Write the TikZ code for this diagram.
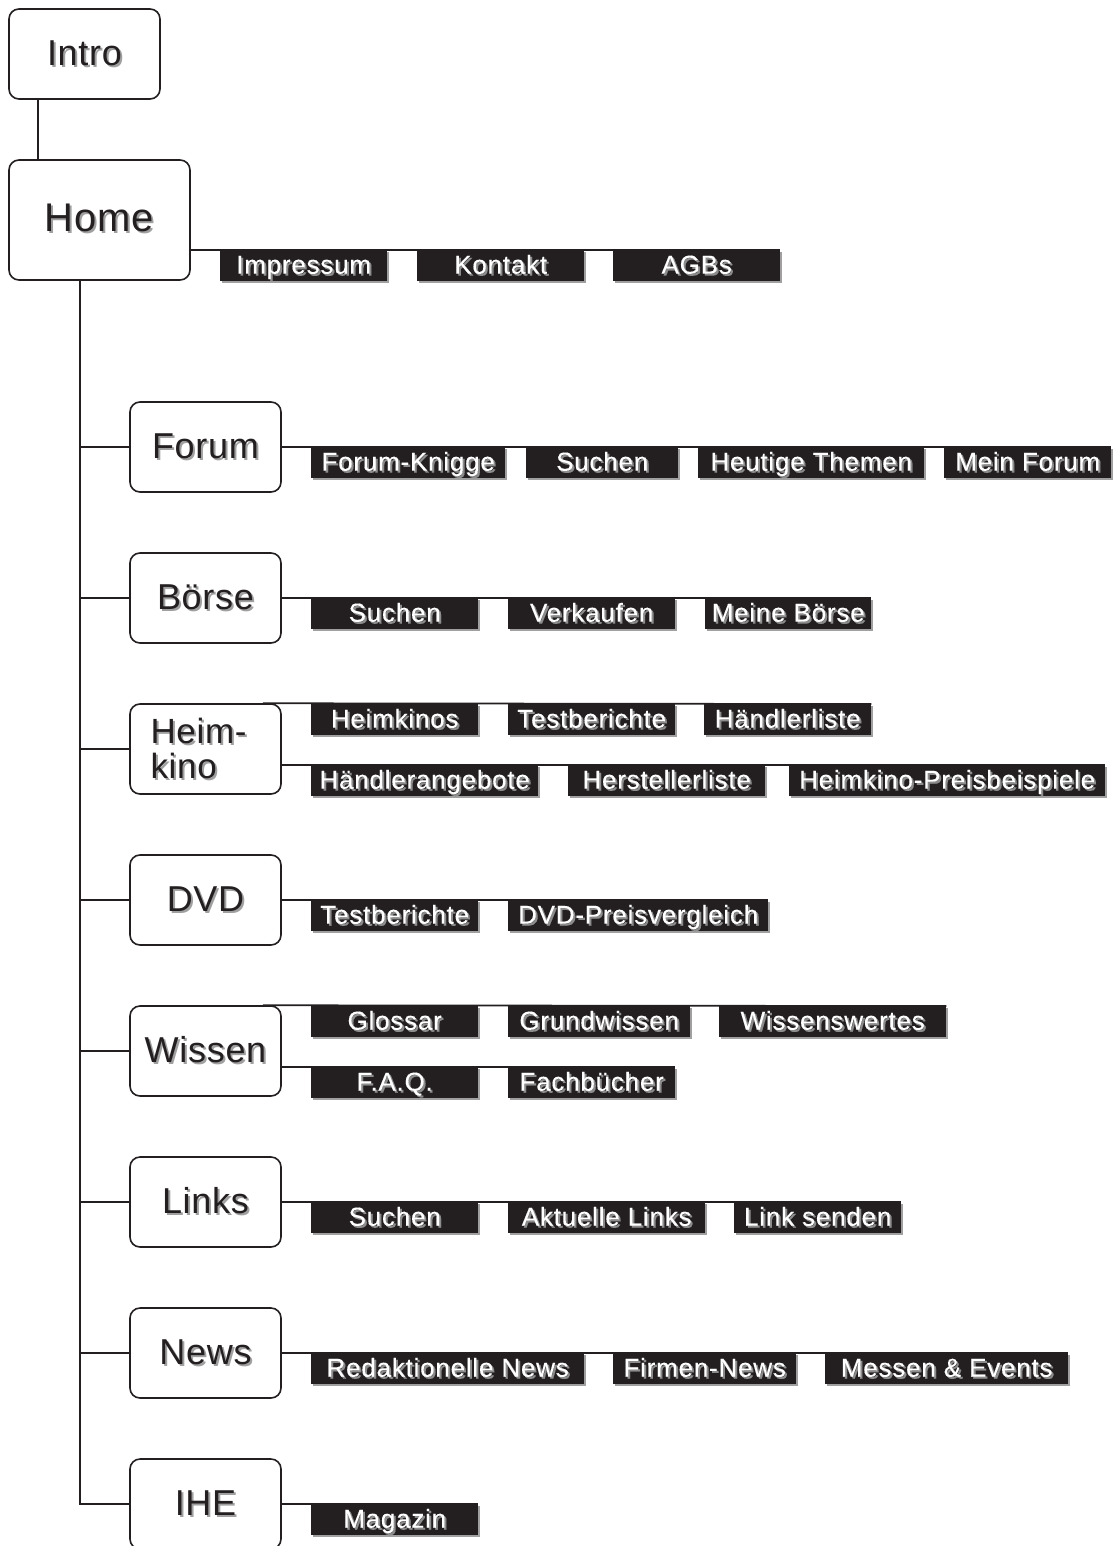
\documentclass[tikz,border=0pt]{standalone}
\usepackage{fontspec}
\setmainfont{Liberation Sans}
\newfontfamily\lblfont[LetterSpace=3,FakeBold=0.3]{Liberation Sans}
\newfontfamily\boxfont[LetterSpace=2]{Liberation Sans}
\usetikzlibrary{shadows}
\definecolor{ink}{HTML}{231F20}
\definecolor{shade}{HTML}{A0A0A0}
\definecolor{lshade}{HTML}{8C8C8C}
\newcommand{\shd}[2]{\leavevmode\rlap{\kern2pt\raisebox{-2pt}{\textcolor{#2}{#1}}}#1}
\begin{document}
\begin{tikzpicture}[x=1pt,y=-1pt,
  mainbox/.style={draw=ink, line width=1.6pt, rounded corners=10pt, fill=white,
    minimum width=151pt, minimum height=90pt, inner sep=0pt, text=ink,
    font=\boxfont\fontsize{36}{40}\selectfont},
  lbl/.style={fill=ink, text=white, anchor=north west, minimum height=31pt,
    inner sep=0pt, text height=21pt, text depth=5pt,
    font=\lblfont\fontsize{26}{28}\selectfont,
    drop shadow={shadow xshift=1.5pt, shadow yshift=-1.5pt, fill=shade, opacity=1}},
  conn/.style={draw=ink, line width=1.6pt}]
\useasboundingbox (0,0) rectangle (1116,1546);

% main boxes
\node[mainbox] (intro) at (84.5,54) {\raisebox{2pt}{\shd{Intro}{shade}}};
\node[mainbox, minimum width=181pt, minimum height=120pt,
      font=\boxfont\fontsize{40}{44}\selectfont] (home) at (99.5,220) {\raisebox{4pt}{\shd{Home}{shade}}};
\node[mainbox] (forum) at (205.5,447) {\shd{Forum}{shade}};
\node[mainbox] (boerse) at (205.5,598) {\shd{Börse}{shade}};
\node[mainbox, align=left, text width=110pt, font=\boxfont\fontsize{35}{35}\selectfont] (heim) at (205.5,749) {\shd{Heim-}{shade}\\\shd{kino}{shade}};
\node[mainbox] (dvd) at (205.5,900) {\shd{DVD}{shade}};
\node[mainbox] (wissen) at (205.5,1051) {\shd{Wissen}{shade}};
\node[mainbox] (links) at (205.5,1202) {\shd{Links}{shade}};
\node[mainbox] (news) at (205.5,1353) {\shd{News}{shade}};
\node[mainbox] (ihe) at (205.5,1504) {\shd{IHE}{shade}};

% labels: Home
\node[lbl, minimum width=167pt] (imp) at (220,250) {\shd{Impressum}{lshade}};
\node[lbl, minimum width=167pt] (kon) at (417,250) {\shd{Kontakt}{lshade}};
\node[lbl, minimum width=167pt] (agb) at (613,250) {\shd{AGBs}{lshade}};
% Forum
\node[lbl, minimum width=194pt] (fk) at (311,447) {\shd{Forum-Knigge}{lshade}};
\node[lbl, minimum width=152pt] (fs) at (526,447) {\shd{Suchen}{lshade}};
\node[lbl, minimum width=226pt] (fh) at (698,447) {\shd{Heutige Themen}{lshade}};
\node[lbl, minimum width=167pt] (fm) at (944,447) {\shd{Mein Forum}{lshade}};
% Boerse
\node[lbl, minimum width=167pt] (bs) at (311,598) {\shd{Suchen}{lshade}};
\node[lbl, minimum width=167pt] (bv) at (508,598) {\shd{Verkaufen}{lshade}};
\node[lbl, minimum width=166pt] (bm) at (705,598) {\shd{Meine Börse}{lshade}};
% Heimkino
\node[lbl, minimum width=167pt] (hh) at (311,704) {\shd{Heimkinos}{lshade}};
\node[lbl, minimum width=167pt] (ht) at (508,704) {\shd{Testberichte}{lshade}};
\node[lbl, minimum width=167pt] (hl) at (704,704) {\shd{Händlerliste}{lshade}};
\node[lbl, minimum width=227pt] (ha) at (311,765) {\shd{Händlerangebote}{lshade}};
\node[lbl, minimum width=197pt] (hs) at (568,765) {\shd{Herstellerliste}{lshade}};
\node[lbl, minimum width=316pt] (hp) at (789,765) {\shd{Heimkino-Preisbeispiele}{lshade}};
% DVD
\node[lbl, minimum width=167pt] (dt) at (311,900) {\shd{Testberichte}{lshade}};
\node[lbl, minimum width=260pt] (dp) at (508,900) {\shd{DVD-Preisvergleich}{lshade}};
% Wissen
\node[lbl, minimum width=167pt] (wg) at (311,1006) {\shd{Glossar}{lshade}};
\node[lbl, minimum width=182pt] (wr) at (508,1006) {\shd{Grundwissen}{lshade}};
\node[lbl, minimum width=227pt] (ww) at (719,1006) {\shd{Wissenswertes}{lshade}};
\node[lbl, minimum width=167pt] (wf) at (311,1067) {\shd{F.A.Q.}{lshade}};
\node[lbl, minimum width=167pt] (wb) at (508,1067) {\shd{Fachbücher}{lshade}};
% Links
\node[lbl, minimum width=167pt] (ls) at (311,1202) {\shd{Suchen}{lshade}};
\node[lbl, minimum width=197pt] (la) at (508,1202) {\shd{Aktuelle Links}{lshade}};
\node[lbl, minimum width=167pt] (lk) at (734,1202) {\shd{Link senden}{lshade}};
% News
\node[lbl, minimum width=273pt] (nr) at (311,1353) {\shd{Redaktionelle News}{lshade}};
\node[lbl, minimum width=183pt] (nf) at (613,1353) {\shd{Firmen-News}{lshade}};
\node[lbl, minimum width=243pt] (nm) at (825,1353) {\shd{Messen \& Events}{lshade}};
% IHE
\node[lbl, minimum width=167pt] (im) at (311,1504) {\shd{Magazin}{lshade}};

% connectors
\draw[conn] ([xshift=30pt]intro.south west) -- ([xshift=30pt]home.north west);
\coordinate (trunk) at ([xshift=72pt]home.south west);
\draw[conn] (trunk) |- (ihe.west);
\foreach \n in {forum,boerse,heim,dvd,wissen,links,news}
  \draw[conn] (\n.west) -- (\n.west -| trunk);
\draw[conn] (home.east |- imp.north) -- (agb.north east);
\draw[conn] (forum.east) -- (fm.north east);
\draw[conn] (boerse.east) -- (bm.north east);
\draw[conn] ([xshift=-19pt]heim.north east) -- (hl.north east);
\draw[conn] (heim.east |- ha.north) -- (hp.north east);
\draw[conn] (dvd.east) -- (dp.north east);
\draw[conn] ([xshift=-19pt]wissen.north east) -- (ww.north east);
\draw[conn] (wissen.east |- wf.north) -- (wb.north east);
\draw[conn] (links.east) -- (lk.north east);
\draw[conn] (news.east) -- (nm.north east);
\draw[conn] (ihe.east) -- (im.north east);
\end{tikzpicture}
\end{document}
